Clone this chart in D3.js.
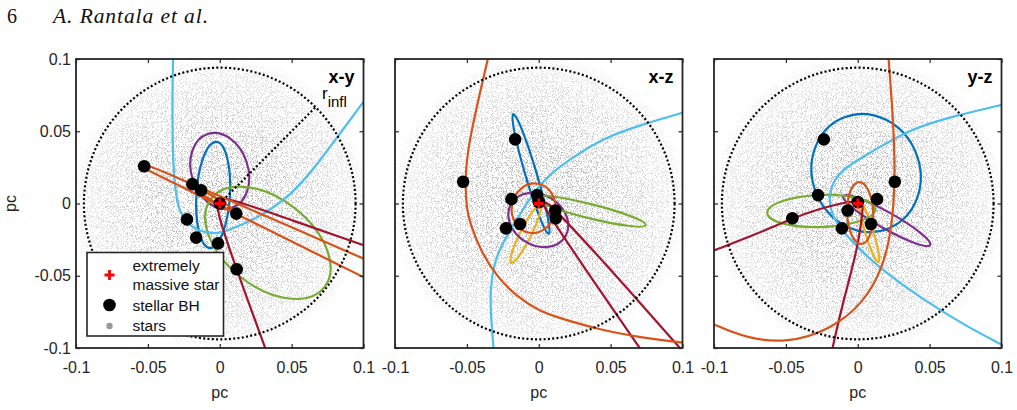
<!DOCTYPE html>
<html>
<head>
<meta charset="utf-8">
<script src="https://cdn.jsdelivr.net/npm/d3@7"></script>
<style>
html, body { margin: 0; padding: 0; background: #fff; }
svg { display: block; font-family: "Liberation Sans", Arial, sans-serif; }
</style>
</head>
<body>
<svg id="chart" width="1017" height="410"></svg>
<script>
// ---- data (pc) ----
const panelNames = ["x-y", "x-z", "y-z"];
const panelAxes = [[0, 1], [0, 2], [1, 2]];
const tickValues = [-0.1, -0.05, 0, 0.05, 0.1];
const tickLabels = ["-0.1", "-0.05", "0", "0.05", "0.1"];
const rInfl = 0.0945;
// projected star density vs radius
const starDensity = [[0, 0.82], [0.02, 0.72], [0.05, 0.56], [0.08, 0.38], [0.095, 0.24], [0.104, 0]];
const massiveStar = [0, 0, 0];
// stellar BHs, 3D positions (x, y, z)
const bhPositions = [
  [-0.0164, -0.0236, 0.0444],
  [-0.0526, 0.0258, 0.0151],
  [-0.0190, 0.0134, 0.0030],
  [-0.0012, -0.0276, 0.0058],
  [0.0115, -0.0070, -0.0048],
  [0.0118, -0.0455, -0.0102],
  [-0.0130, 0.0092, -0.0142],
  [-0.0228, -0.0110, -0.0172],
  [0.0000, 0.0000, 0.0010]
];

// bound orbits, projected ellipses per panel: [cx, cy, a, b, angle in degrees]
const ellBlue = [[-0.0046, 0.0059, 0.0370, 0.0116, 86.5], [-0.0054, 0.0204, 0.0434, 0.0039, 106.5], [0.0058, 0.0211, 0.0416, 0.0372, 112]];
const ellYellow = [[-0.0094, 0.0064, 0.0121, 0.0013, 147], [-0.0091, -0.0211, 0.0225, 0.0038, 63.4], [0.0080, -0.0197, 0.0218, 0.0028, 107]];
const ellPurple = [[0.0000, 0.0225, 0.0270, 0.0196, 108], [-0.0003, -0.0114, 0.0220, 0.0174, -31.7], [0.0202, -0.0118, 0.0347, 0.0057, -29.4]];
const ellGreen = [[0.0335, -0.0272, 0.0500, 0.0303, -38.1], [0.0352, -0.0052, 0.0403, 0.0049, -14], [-0.0254, -0.0052, 0.0376, 0.0111, 2]];
const ellOrangeSmall = [[-0.0035, 0.0026, 0.0169, 0.0015, 149.3], [-0.0036, -0.0033, 0.0173, 0.0151, 80], [0.0017, -0.0066, 0.0215, 0.0090, 92]];

// unbound / very wide orbits, traced points per panel: [x-y, x-z, y-z]
const trackLightBlue = [
  [[-0.0322,0.1080],[-0.0325,0.0998],[-0.0330,0.0716],[-0.0328,0.0439],[-0.0322,0.0255],[-0.0310,0.0093],[-0.0285,-0.0045],[-0.0228,-0.0140],[-0.0139,-0.0195],[-0.0030,-0.0210],[0.0035,-0.0195],[0.0266,-0.0102],[0.0498,0.0059],[0.0660,0.0246],[0.0833,0.0481],[0.0995,0.0696],[0.1076,0.0806]],
  [[0.1125,0.0661],[0.0998,0.0628],[0.0707,0.0543],[0.0452,0.0453],[0.0243,0.0324],[0.0080,0.0209],[-0.0059,0.0047],[-0.0157,-0.0121],[-0.0268,-0.0299],[-0.0315,-0.0437],[-0.0338,-0.0599],[-0.0333,-0.0783],[-0.0315,-0.0991],[-0.0310,-0.1083]],
  [[0.1098,0.0709],[0.1005,0.0682],[0.0691,0.0612],[0.0343,0.0509],[0.0064,0.0336],[-0.0122,0.0232],[-0.0203,0.0093],[-0.0192,-0.0068],[-0.0099,-0.0206],[0.0134,-0.0437],[0.0459,-0.0668],[0.0761,-0.0853],[0.0993,-0.0972],[0.1098,-0.1028]]
];
const trackDarkRed = [
  [[0.1110,-0.0327],[0.0995,-0.0287],[0.0500,-0.0115],[0.0035,0.0047],[-0.0010,0.0030],[-0.0030,-0.0030],[0.0116,-0.0455],[0.0313,-0.0991],[0.0345,-0.1080]],
  [[0.0777,-0.1104],[0.0695,-0.0991],[0.0300,-0.0420],[0.0060,-0.0060],[0.0020,0.0005],[0.0060,0.0010],[0.0130,-0.0060],[0.0429,-0.0377],[0.0963,-0.0979],[0.1056,-0.1083]],
  [[-0.1098,-0.0363],[-0.0993,-0.0322],[-0.0702,-0.0211],[-0.0454,-0.0102],[-0.0284,-0.0042],[-0.0122,0.0000],[-0.0006,0.0021],[0.0040,-0.0003],[0.0031,-0.0080],[-0.0003,-0.0322],[-0.0099,-0.0668],[-0.0169,-0.0967],[-0.0192,-0.1083]]
];
const trackOrange = [
  [[0.1110,-0.0429],[0.0995,-0.0379],[0.0035,0.0036],[-0.0300,0.0181],[-0.0512,0.0272],[-0.0552,0.0255],[-0.0515,0.0239],[-0.0300,0.0132],[0.0035,-0.0033],[0.0995,-0.0507],[0.1110,-0.0564]],
  [[-0.0338,0.1062],[-0.0357,0.0993],[-0.0431,0.0670],[-0.0490,0.0400],[-0.0515,0.0151],[-0.0500,-0.0050],[-0.0477,-0.0137],[-0.0408,-0.0322],[-0.0291,-0.0507],[-0.0152,-0.0645],[0.0010,-0.0749],[0.0150,-0.0794],[0.0429,-0.0875],[0.0707,-0.0927],[0.0998,-0.0963],[0.1125,-0.0975]],
  [[0.0209,0.1076],[0.0215,0.0993],[0.0249,0.0555],[0.0261,0.0151],[0.0238,-0.0161],[0.0180,-0.0437],[0.0040,-0.0691],[-0.0192,-0.0875],[-0.0493,-0.0967],[-0.0772,-0.0933],[-0.0993,-0.0841],[-0.1098,-0.0792]]
];

const ellipseOrbits = [ellBlue, ellYellow, ellPurple, ellGreen];
const ellipseColors = ["#0072BD", "#EDB120", "#7E2F8E", "#77AC30"];
const trackOrbits = [trackLightBlue, trackDarkRed, trackOrange];
const trackColors = ["#4DBEEE", "#A2142F", "#D95319"];

const legendLabels = [["extremely", "massive star"], ["stellar BH"], ["stars"]];

// ---- layout ----
const W = 1017, H = 410;
const panelLeft = [76, 395, 714];
const panelW = 287.5;
const plotTop = 59, plotBottom = 348;
const ink = "#262626";

const svg = d3.select("#chart");
const defs = svg.append("defs");

// speckle texture for the star cloud
const speck = defs.append("filter").attr("id", "speck")
  .attr("filterUnits", "userSpaceOnUse")
  .attr("x", 0).attr("y", 0).attr("width", W).attr("height", H);
speck.append("feTurbulence").attr("type", "fractalNoise")
  .attr("baseFrequency", 1.2).attr("numOctaves", 1).attr("seed", 4).attr("result", "n");
speck.append("feColorMatrix").attr("in", "n").attr("type", "matrix")
  .attr("values", "0 0 0 0 0.3  0 0 0 0 0.3  0 0 0 0 0.3  9 0 0 0 -4.7");

const dens = defs.append("radialGradient").attr("id", "dens");
const rMax = starDensity[starDensity.length - 1][0];
dens.selectAll("stop").data(starDensity).join("stop")
  .attr("offset", d => d[0] / rMax)
  .attr("stop-color", "#fff")
  .attr("stop-opacity", d => d[1]);

// header
svg.append("text").attr("x", 7).attr("y", 22.5)
  .style("font-family", "'Liberation Serif', 'Times New Roman', serif")
  .style("font-size", "20px").attr("fill", "#111").text("6");
svg.append("text").attr("x", 53).attr("y", 22.5)
  .style("font-family", "'Liberation Serif', 'Times New Roman', serif")
  .style("font-size", "21.5px").style("font-style", "italic")
  .attr("textLength", 155).attr("lengthAdjust", "spacing")
  .attr("fill", "#111").text("A. Rantala et al.");

panelNames.forEach((name, p) => {
  const x0 = panelLeft[p], x1 = x0 + panelW;
  const x = d3.scaleLinear().domain([-0.1, 0.1]).range([x0, x1]);
  const y = d3.scaleLinear().domain([-0.1, 0.1]).range([plotBottom, plotTop]);
  const kx = x(1) - x(0), ky = y(0) - y(1);
  const [ax, ay] = panelAxes[p];

  const clip = defs.append("clipPath").attr("id", "clip" + p);
  clip.append("rect").attr("x", x0).attr("y", plotTop).attr("width", panelW).attr("height", plotBottom - plotTop);

  const mask = defs.append("mask").attr("id", "starMask" + p)
    .attr("maskUnits", "userSpaceOnUse")
    .attr("x", x0).attr("y", plotTop).attr("width", panelW).attr("height", plotBottom - plotTop);
  mask.append("circle").attr("cx", x(0)).attr("cy", y(0))
    .attr("r", x(rMax) - x(0)).attr("fill", "url(#dens)");

  const g = svg.append("g").attr("clip-path", `url(#clip${p})`);

  // stars
  g.append("rect").attr("x", x0).attr("y", plotTop)
    .attr("width", panelW).attr("height", plotBottom - plotTop)
    .attr("fill", "#000").attr("filter", "url(#speck)").attr("mask", `url(#starMask${p})`);

  // bound orbits
  ellipseOrbits.forEach((orb, k) => {
    const [cx, cy, a, b, ang] = orb[p];
    g.append("ellipse")
      .attr("transform", `translate(${x(cx)},${y(cy)}) rotate(${-ang})`)
      .attr("rx", a * kx).attr("ry", b * ky)
      .attr("fill", "none").attr("stroke", ellipseColors[k]).attr("stroke-width", 2.2);
  });

  // wide orbits
  const line = d3.line().x(d => x(d[0])).y(d => y(d[1])).curve(d3.curveBasis);
  trackOrbits.forEach((orb, k) => {
    g.append("path").attr("d", line(orb[p]))
      .attr("fill", "none").attr("stroke", trackColors[k])
      .attr("stroke-width", 2.2).attr("stroke-linejoin", "round");
  });
  {
    const [cx, cy, a, b, ang] = ellOrangeSmall[p];
    g.append("ellipse")
      .attr("transform", `translate(${x(cx)},${y(cy)}) rotate(${-ang})`)
      .attr("rx", a * kx).attr("ry", b * ky)
      .attr("fill", "none").attr("stroke", "#D95319").attr("stroke-width", 2.2);
  }

  // influence radius
  g.append("circle").attr("cx", x(0)).attr("cy", y(0)).attr("r", x(rInfl) - x(0))
    .attr("fill", "none").attr("stroke", "#000").attr("stroke-width", 2.2)
    .attr("stroke-dasharray", "2 2.3");
  if (p === 0) {
    const e = rInfl * Math.SQRT1_2;
    g.append("line").attr("x1", x(0)).attr("y1", y(0)).attr("x2", x(e)).attr("y2", y(e))
      .attr("stroke", "#000").attr("stroke-width", 2.2).attr("stroke-dasharray", "2 2.3");
  }

  // stellar BHs
  g.selectAll(".bh").data(bhPositions).join("circle").attr("class", "bh")
    .attr("cx", d => x(d[ax])).attr("cy", d => y(d[ay])).attr("r", 6.3).attr("fill", "#000");

  // massive star
  const sx = x(massiveStar[ax]), sy = y(massiveStar[ay]);
  g.append("path").attr("d", `M${sx - 5},${sy}H${sx + 5}M${sx},${sy - 5}V${sy + 5}`)
    .attr("stroke", "#ff0000").attr("stroke-width", 2.8);

  // axes
  const fmt = (d, i) => tickLabels[i];
  svg.append("g").attr("transform", `translate(0,${plotBottom})`)
    .call(d3.axisBottom(x).tickValues(tickValues).tickSize(-4).tickPadding(14).tickFormat(fmt));
  svg.append("g").attr("transform", `translate(0,${plotTop})`)
    .call(d3.axisTop(x).tickValues(tickValues).tickSize(-4).tickFormat(""));
  svg.append("g").attr("transform", `translate(${x1},0)`)
    .call(d3.axisRight(y).tickValues(tickValues).tickSize(-4).tickFormat(""));
  svg.append("g").attr("transform", `translate(${x0},0)`)
    .call(d3.axisLeft(y).tickValues(tickValues).tickSize(-4).tickPadding(5)
      .tickFormat(p === 0 ? fmt : ""));
  svg.selectAll(".domain").remove();
  svg.selectAll(".tick line").attr("stroke", ink).attr("stroke-width", 1.2);
  svg.selectAll(".tick text").attr("fill", ink).style("font-size", "16px")
    .style("font-family", "'Liberation Sans', Arial, sans-serif");

  svg.append("rect").attr("x", x0).attr("y", plotTop)
    .attr("width", panelW).attr("height", plotBottom - plotTop)
    .attr("fill", "none").attr("stroke", ink).attr("stroke-width", 1.8);

  // labels
  svg.append("text").attr("x", x(0)).attr("y", 397.5).attr("text-anchor", "middle")
    .attr("fill", ink).style("font-size", "16px").text("pc");
  svg.append("text").attr("x", x1 - 9).attr("y", 83).attr("text-anchor", "end")
    .attr("fill", "#000").style("font-size", "18px").style("font-weight", "bold").text(name);

  if (p === 0) {
    svg.append("text").attr("transform", `translate(16,${y(0)}) rotate(-90)`)
      .attr("text-anchor", "middle").attr("fill", ink).style("font-size", "16px").text("pc");
    const rl = svg.append("text").attr("x", 322).attr("y", 99).attr("fill", "#000").style("font-size", "17px");
    rl.append("tspan").text("r");
    rl.append("tspan").attr("dy", 8).style("font-size", "15px").text("infl");

    // legend
    const lg = svg.append("g").attr("transform", "translate(87,252.5)");
    lg.append("rect").attr("width", 136.5).attr("height", 83.5)
      .attr("fill", "#fff").attr("stroke", ink).attr("stroke-width", 1.6);
    lg.append("path").attr("d", "M17.5,22.5H27.5M22.5,17.5V27.5")
      .attr("stroke", "#ff0000").attr("stroke-width", 2.8);
    lg.append("circle").attr("cx", 22.5).attr("cy", 52.5).attr("r", 6.3).attr("fill", "#000");
    lg.append("circle").attr("cx", 22.5).attr("cy", 73.5).attr("r", 3.2).attr("fill", "#999");
    const rows = [[18.2, 37.5], [58.2], [78]];
    legendLabels.forEach((lines, i) => {
      lines.forEach((t, j) => {
        lg.append("text").attr("x", 45.5).attr("y", rows[i][j])
          .attr("fill", "#111").style("font-size", "15.5px").text(t);
      });
    });
  }
});
</script>
</body>
</html>
